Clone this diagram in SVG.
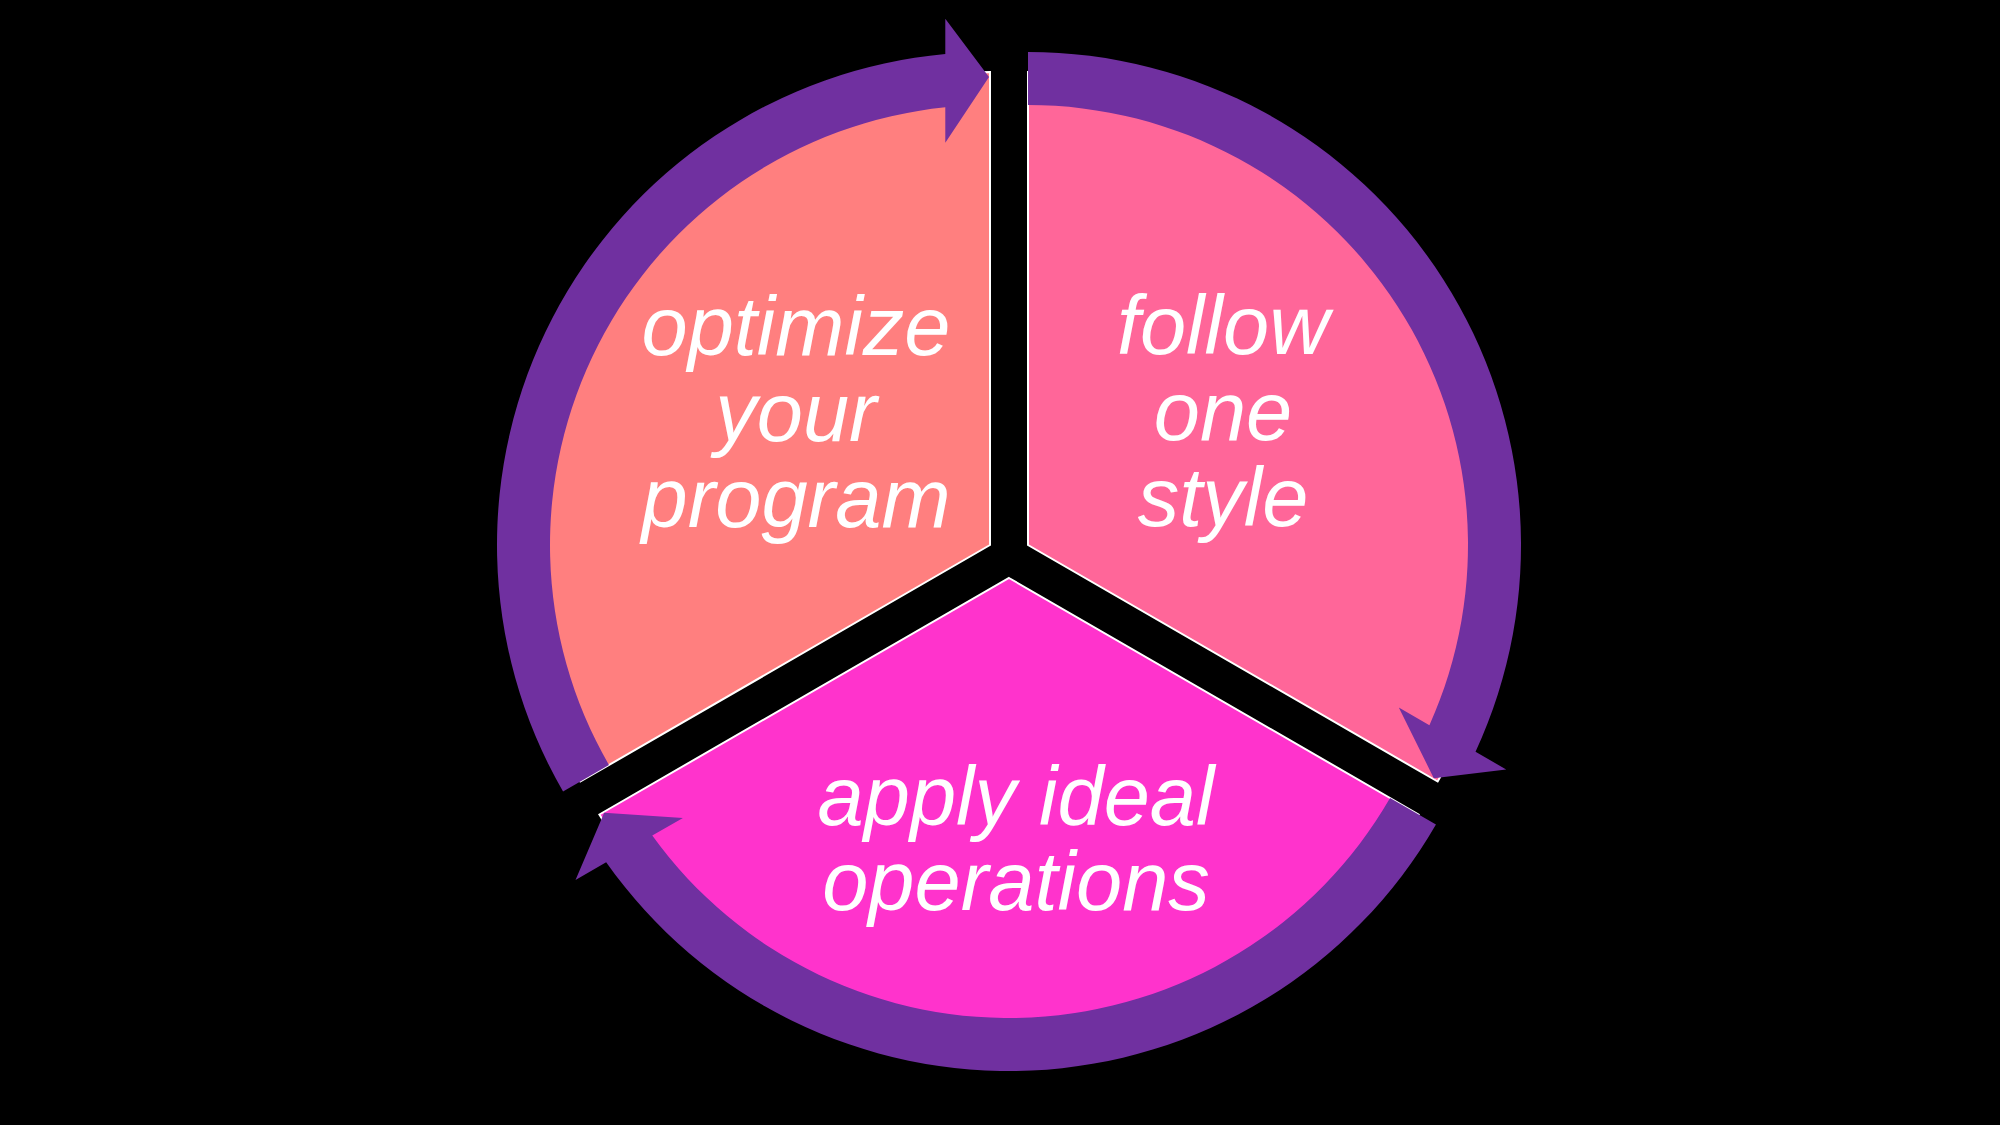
<svg xmlns="http://www.w3.org/2000/svg" width="2000" height="1125" viewBox="0 0 2000 1125">
  <style>
    .seg { stroke: #FFFFFF; stroke-width: 2; stroke-linejoin: miter; }
    .label { font-family: "Liberation Sans", Arial, sans-serif; font-style: italic; font-size: 83px; fill: #FFFFFF; text-anchor: middle; }
    .ring { fill: #7030A0; }
  </style>
  <defs>
    <path id="ringArrow" d="M -426.95 246.5 A 493 493 0 0 1 -44.7 -490.97 L -44.7 -526.35 L -1 -468 L -44.7 -402.35 L -44.7 -437.72 A 440 440 0 0 0 -381.05 220 Z"/>
  </defs>
  <rect x="0" y="0" width="2000" height="1125" fill="#000000"/>

  <g id="node-optimize">
    <path class="seg" fill="#FF7F7F" d="M 990 545 L 580.37 781.5 A 473 473 0 0 1 990 72 Z"/>
    <text class="label" x="796" y="355">optimize</text>
    <text class="label" x="796" y="441">your</text>
    <text class="label" x="796" y="527">program</text>
  </g>

  <g id="node-follow">
    <path class="seg" fill="#FF6699" d="M 1028 545 L 1028 72 A 473 473 0 0 1 1437.63 781.5 Z"/>
    <text class="label" x="1223" y="354">follow</text>
    <text class="label" x="1223" y="440">one</text>
    <text class="label" x="1223" y="526">style</text>
  </g>

  <g id="node-apply">
    <path class="seg" fill="#FF33CC" d="M 1009 578 L 1418.63 814.5 A 473 473 0 0 1 599.37 814.5 Z"/>
    <text class="label" x="1016" y="825">apply ideal</text>
    <text class="label" x="1016" y="910">operations</text>
  </g>

  <g id="connectors" class="ring">
    <use href="#ringArrow" transform="translate(990 545)"/>
    <use href="#ringArrow" transform="translate(1028 545) rotate(120)"/>
    <use href="#ringArrow" transform="translate(1009 578) rotate(240)"/>
  </g>
</svg>
